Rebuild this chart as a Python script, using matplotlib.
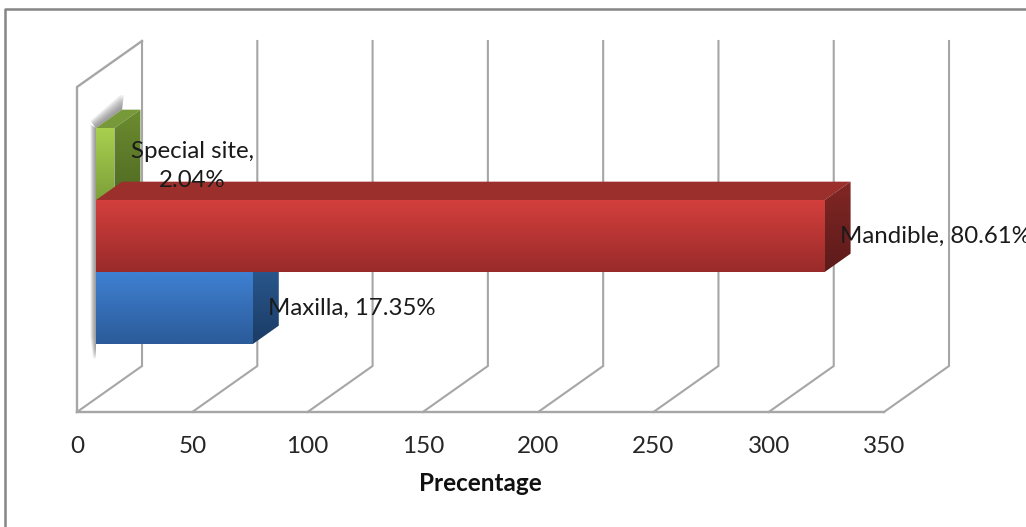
#!/usr/bin/env python
# -*- coding: utf-8 -*-

import matplotlib
matplotlib.use("Agg")
import matplotlib.pyplot as plt
from matplotlib.colors import LinearSegmentedColormap
from matplotlib.lines import Line2D
from matplotlib.patches import Polygon
import numpy as np

sites = ["Maxilla", "Mandible", "Special site"]
values = [68, 316, 8]
shares = ["17.35%", "80.61%", "2.04%"]
x_ticks = [0, 50, 100, 150, 200, 250, 300, 350]

W, H = 1026, 527
GRID = "#a6a6a6"

# oblique depth of the chart box, in data units
wall_dx = 28.2
wall_dy = 0.639
bar_near = 0.292
bar_far = 0.692

# front, side and top colours per bar (gradient ends where there are two)
front_cols = [("#3f80d2", "#2b5b99"), ("#d33f3c", "#992b2a"), ("#a8d04e", "#7ea03a")]
side_cols = [("#2c5c94", "#1b3c66"), ("#822725", "#5c1b1a"), ("#6c8c30", "#4e6a22")]
top_cols = ["#2f5f9a", "#9b2f2c", "#77993a"]


def project(x, y, d):
    return x + d * wall_dx, y + d * wall_dy


def shaded(ax, pts, cols, z):
    # vertical gradient clipped to a polygon
    pts = np.array(pts)
    cmap = LinearSegmentedColormap.from_list("g", cols)
    grad = np.linspace(0, 1, 64).reshape(-1, 1)
    ext = [pts[:, 0].min(), pts[:, 0].max(), pts[:, 1].min(), pts[:, 1].max()]
    im = ax.imshow(grad, cmap=cmap, extent=ext, aspect="auto", origin="upper",
                   interpolation="bilinear", zorder=z)
    im.set_clip_path(Polygon(pts, transform=ax.transData))


def draw_bar(ax, i, z):
    lo, hi = i - 0.5, i + 0.5
    v = values[i]
    near = lambda x, y: project(x, y, bar_near)
    far = lambda x, y: project(x, y, bar_far)
    ax.add_patch(Polygon([near(0, hi), near(v, hi), far(v, hi), far(0, hi)],
                         fc=top_cols[i], ec="none", zorder=z))
    shaded(ax, [near(v, lo), near(v, hi), far(v, hi), far(v, lo)], side_cols[i], z)
    shaded(ax, [near(0, lo), near(v, lo), near(v, hi), near(0, hi)], front_cols[i], z + 0.1)


fig = plt.figure(figsize=(W / 100, H / 100), dpi=100)
plt.rcParams["font.family"] = "Lato"
ax = fig.add_axes([77 / W, 1 - 412 / H, (884 - 77) / W, (412 - 87) / H])
ax.patch.set_alpha(0)
for s in ax.spines.values():
    s.set_visible(False)

ylim = (1 - 2.257, 1 + 2.257)

# outer frame of the chart area
fig.add_artist(Line2D([5 / W, 5 / W, 1], [0, 1 - 8.5 / H, 1 - 8.5 / H], color="#858585", lw=1.8))

# walls and gridlines
for t in x_ticks:
    bx, by = project(t, ylim[0], 1)
    tx, ty = project(t, ylim[1], 1)
    ax.plot([t, bx, tx], [ylim[0], by, ty], color=GRID, lw=1.5, clip_on=False, zorder=1,
            solid_joinstyle="miter")
tx, ty = project(0, ylim[1], 1)
ax.plot([0, 0, tx], [ylim[0], ylim[1], ty], color=GRID, lw=1.7, clip_on=False, zorder=1)
ax.plot([0, x_ticks[-1]], [ylim[0], ylim[0]], color=GRID, lw=1.7, clip_on=False, zorder=1)

# soft shadow: stacked translucent shapes left of the stack and above the green top
top_y = 2.5
low_y = -0.5
for k in np.linspace(0.15, 1, 10):
    w = 2.4 * k
    a = project(0, top_y, bar_near)
    b = project(-w, top_y + 0.05 * k, bar_near)
    c = project(-w, low_y + 0.1, bar_near)
    d = project(-w * 0.5, low_y - 0.2 * k, bar_near)
    e = project(0, low_y - 0.2 * k, bar_near)
    ax.add_patch(Polygon([a, b, c, d, e], fc="#666666", ec="none", alpha=0.09,
                         clip_on=False, zorder=2))
    f = project(0, top_y, bar_far)
    g = project(0.8 * k, top_y + 0.2 * k, bar_far)
    h = project(-1.0 * k, top_y + 0.2 * k, bar_far)
    i = project(-w, top_y + 0.1 * k, bar_near)
    ax.add_patch(Polygon([a, f, g, h, i], fc="#666666", ec="none", alpha=0.09,
                         clip_on=False, zorder=2))

# drawing order keeps the long bar in front of its neighbours
for z, i in zip([3, 4, 5], [0, 2, 1]):
    draw_bar(ax, i, z)

# value labels sit a fixed distance past the bar end
label_offsets = [(15, 0, "left"), (15, 0, "left"), (78, -2, "center")]
for i in range(3):
    x, y = project(values[i], i, bar_near)
    dx, dy, ha = label_offsets[i]
    sep = "\n" if i == 2 else " "
    ax.annotate(sites[i] + "," + sep + shares[i], (x, y), xytext=(dx, dy),
                textcoords="offset pixels", ha=ha, va="center", fontsize=17.3,
                color="#1a1a1a", zorder=8, linespacing=1.42, annotation_clip=False)

ax.set_xlim(0, 350)
ax.set_ylim(*ylim)
ax.set_yticks([])
ax.set_xticks(x_ticks)
ax.tick_params(axis="x", length=0, pad=17, labelsize=17.5, labelcolor="#262626")
ax.set_xlabel("Precentage", fontsize=17.5, fontweight="bold", labelpad=11, color="#111111")

plt.savefig("out.png", dpi=100)
